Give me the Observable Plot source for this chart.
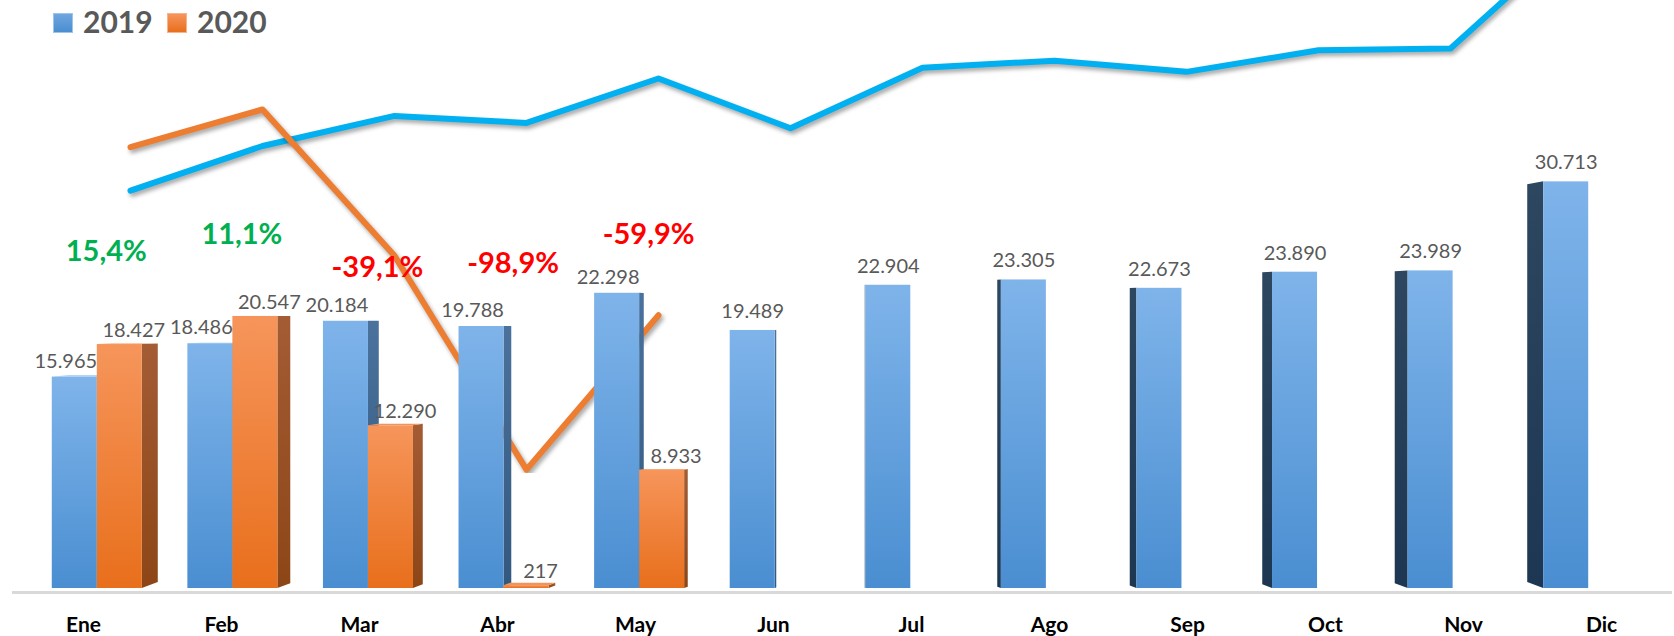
<!DOCTYPE html>
<html><head><meta charset="utf-8">
<script src="https://cdn.jsdelivr.net/npm/d3@7"></script>
<script src="https://cdn.jsdelivr.net/npm/@observablehq/plot@0.6"></script>
<style>
html,body{margin:0;padding:0;background:#fff;overflow:hidden;}
#wrap{position:relative;width:1674px;height:636px;font-family:Lato,sans-serif;}
#wrap svg{position:absolute;left:0;top:0;}
.leg-sq{position:absolute;width:20px;height:20px;top:13px;box-sizing:border-box;}
.leg-tx{position:absolute;top:6px;font:bold 30px/30px Lato,sans-serif;color:#595959;}
#wrap g[aria-label="line"] path{filter:drop-shadow(2px 3px 2px rgba(0,0,0,0.35));}
</style></head>
<body><div id="wrap"></div>
<script>
// ---- data ----
const months = ["Ene","Feb","Mar","Abr","May","Jun","Jul","Ago","Sep","Oct","Nov","Dic"];
const sales2019 = [15965, 18486, 20184, 19788, 22298, 19489, 22904, 23305, 22673, 23890, 23989, 30713];
const sales2020 = [18427, 20547, 12290, 217, 8933];
// annotation heights (in bar-value units) for the variation labels
const pctLabelY = [25400, 26700, 24200, 24500, 26700];

// ---- helpers ----
const W = 1674, H = 636;
const loc = d3.formatLocale({decimal: ",", thousands: ".", grouping: [3], currency: ["", ""], minus: "-"});
const fmtN = loc.format(",d");
const fmtP = loc.format(".1%");

// pseudo-3D geometry (in scale units)
const barW = 0.332;   // bar width in category steps
const K = 0.0228;     // depth per unit distance from vanishing column
const VX = 5.5;       // vanishing column (between Jun and Jul)
const VY = 20400;     // eye level in value units
const SK = 0.1864;    // shrink of far edge per unit depth

const bars = [];
months.forEach((m, i) => {
  const paired = i < sales2020.length;
  bars.push({series: "2019", i, v: sales2019[i], x1: i - barW, x2: i, paired});
  if (paired) bars.push({series: "2020", i, v: sales2020[i], x1: i, x2: i + barW, paired});
});

function geom(b) {
  const dR = K * (VX - b.x2), dL = K * (VX - b.x1);
  const right = dR > 0;
  const d = right ? dR : dL;
  const edge = right ? b.x2 : b.x1;
  const s = 1 - SK * Math.abs(d);
  const far = v => VY + s * (v - VY);
  const vf = far(b.v), bf = far(0);
  const id = b.series + "-" + b.i;
  const side = right
    ? [{id, x: edge, y1: 0, y2: b.v}, {id, x: edge + d, y1: bf, y2: vf}]
    : [{id, x: edge + d, y1: bf, y2: vf}, {id, x: edge, y1: 0, y2: b.v}];
  let top = [];
  if (vf > b.v) {
    top = d > 0
      ? [{id, x: b.x1, y1: b.v, y2: b.v}, {id, x: b.x1 + d, y1: b.v, y2: vf}, {id, x: b.x2, y1: b.v, y2: vf}, {id, x: b.x2 + d, y1: vf, y2: vf}]
      : [{id, x: b.x1 + d, y1: vf, y2: vf}, {id, x: b.x1, y1: b.v, y2: vf}, {id, x: b.x2 + d, y1: b.v, y2: vf}, {id, x: b.x2, y1: b.v, y2: b.v}];
  }
  return {right, side, top};
}

const g = bars.map(b => ({b, ...geom(b)}));
const blueRight = g.filter(o => o.b.series === "2019" && o.right).flatMap(o => o.side);
const blueLeft = g.filter(o => o.b.series === "2019" && !o.right).flatMap(o => o.side);
const orangeSide = g.filter(o => o.b.series === "2020").flatMap(o => o.side);
const blueTop = g.filter(o => o.b.series === "2019").flatMap(o => o.top);
const orangeTop = g.filter(o => o.b.series === "2020").flatMap(o => o.top);

const b19 = bars.filter(b => b.series === "2019");
const b20 = bars.filter(b => b.series === "2020");
const pct = sales2020.map((v, i) => ({i, p: v / sales2019[i] - 1, y: pctLabelY[i]}));

const faceOpts = (fill) => ({x1: "x", y1: "y1", y2: "y2", z: "id", fill, curve: "linear"});

// ---- lines (secondary scale), drawn underneath ----
const lineData19 = months.map((m, i) => ({m, v: sales2019[i]}));
const lineData20 = sales2020.map((v, i) => ({m: months[i], v}));
const linesPlot = Plot.plot({
  width: W, height: H,
  marginLeft: 126, marginRight: 89, marginTop: 0, marginBottom: 163,
  x: {type: "point", domain: months, padding: 0, axis: null},
  y: {domain: [0, 26700], axis: null},
  style: {background: "transparent"},
  marks: [
    Plot.line(lineData19, {x: "m", y: "v", stroke: "#00b0f0", strokeWidth: 6, clip: true}),
    Plot.line(lineData20, {x: "m", y: "v", stroke: "#ed7d31", strokeWidth: 6, clip: true})
  ]
});

// ---- bars ----
const mainPlot = Plot.plot({
  width: W, height: H,
  marginLeft: 29, marginRight: 18, marginTop: 0, marginBottom: 48,
  x: {type: "linear", domain: [-0.5, 11.5], axis: null},
  y: {domain: [0, 44411], axis: null},
  style: {background: "transparent", fontFamily: "Lato, sans-serif", overflow: "visible"},
  marks: [
    Plot.ruleY([0], {stroke: "#d9d9d9", strokeWidth: 3, dy: 4, insetLeft: -17, insetRight: -16}),
    Plot.area(blueRight, faceOpts("url(#gBlueSide)")),
    Plot.area(blueLeft, faceOpts("url(#gBlueDark)")),
    Plot.area(blueTop, faceOpts("#9cc6ee")),
    Plot.area(orangeSide, faceOpts("url(#gOrangeSide)")),
    Plot.area(orangeTop, faceOpts("#f0945c")),
    Plot.rect(b19, {x1: "x1", x2: "x2", y1: d => 0, y2: "v", fill: "url(#gBlue)"}),
    Plot.rect(b20, {x1: "x1", x2: "x2", y1: d => 0, y2: "v", fill: "url(#gOrange)"}),
    Plot.text(b19.filter(b => b.paired), {x: d => (d.x1 + d.x2) / 2, y: "v", text: d => fmtN(d.v), dy: -16, dx: -9, lineAnchor: "middle", fontSize: 20, fill: "#595959"}),
    Plot.text(b19.filter(b => !b.paired), {x: d => (d.x1 + d.x2) / 2, y: "v", text: d => fmtN(d.v), dy: -19, lineAnchor: "middle", fontSize: 20, fill: "#595959"}),
    Plot.text(b20, {x: d => (d.x1 + d.x2) / 2, y: "v", text: d => fmtN(d.v), dy: -14, dx: 14, lineAnchor: "middle", fontSize: 20, fill: "#595959"}),
    Plot.text(pct, {x: "i", y: "y", text: d => fmtP(d.p), dx: 9, lineAnchor: "middle", fontSize: 29, fontWeight: "bold", fill: d => d.p >= 0 ? "#00b050" : "#ff0000"})
  ]
});

d3.select(mainPlot).insert("defs", ":first-child").html(`
  <linearGradient id="gBlue" x1="0" y1="0" x2="0" y2="1"><stop offset="0" stop-color="#7fb4ea"/><stop offset="1" stop-color="#4a8ed1"/></linearGradient>
  <linearGradient id="gOrange" x1="0" y1="0" x2="0" y2="1"><stop offset="0" stop-color="#f6955b"/><stop offset="1" stop-color="#e86f1c"/></linearGradient>
  <linearGradient id="gOrangeSide" x1="0" y1="0" x2="0" y2="1"><stop offset="0" stop-color="#a35c34"/><stop offset="1" stop-color="#8c4616"/></linearGradient>
  <linearGradient id="gBlueSide" x1="0" y1="0" x2="0" y2="1"><stop offset="0" stop-color="#4a729c"/><stop offset="1" stop-color="#33587f"/></linearGradient>
  <linearGradient id="gBlueDark" x1="0" y1="0" x2="0" y2="1"><stop offset="0" stop-color="#2e4761"/><stop offset="1" stop-color="#1d3651"/></linearGradient>
`);

// ---- month axis (perspective-shifted band) ----
const axisPlot = Plot.plot({
  width: W, height: H,
  marginLeft: 83, marginRight: 73, marginTop: 0, marginBottom: 44,
  x: {type: "point", domain: months, padding: 0, tickSize: 0, tickPadding: 25, label: null},
  style: {background: "transparent", fontFamily: "Lato, sans-serif", fontSize: "21px", fontWeight: "bold", color: "#000"},
  marks: [Plot.ruleX(months, {x: d => d, strokeOpacity: 0})]
});

const wrap = document.getElementById("wrap");
wrap.appendChild(linesPlot);
wrap.appendChild(mainPlot);
wrap.appendChild(axisPlot);

// ---- legend ----
const legend = [
  {label: "2019", sq: 53, tx: 83, bg: "linear-gradient(#6fa6df,#4a8ed1)", border: "#9fc4ec"},
  {label: "2020", sq: 167, tx: 197, bg: "linear-gradient(#f6955b,#e86f1c)", border: "#f7b48a"}
];
legend.forEach(l => {
  const s = document.createElement("div");
  s.className = "leg-sq"; s.style.left = l.sq + "px"; s.style.background = l.bg; s.style.border = "1px solid " + l.border;
  const t = document.createElement("div");
  t.className = "leg-tx"; t.style.left = l.tx + "px"; t.textContent = l.label;
  wrap.appendChild(s); wrap.appendChild(t);
});
</script>
</body></html>
